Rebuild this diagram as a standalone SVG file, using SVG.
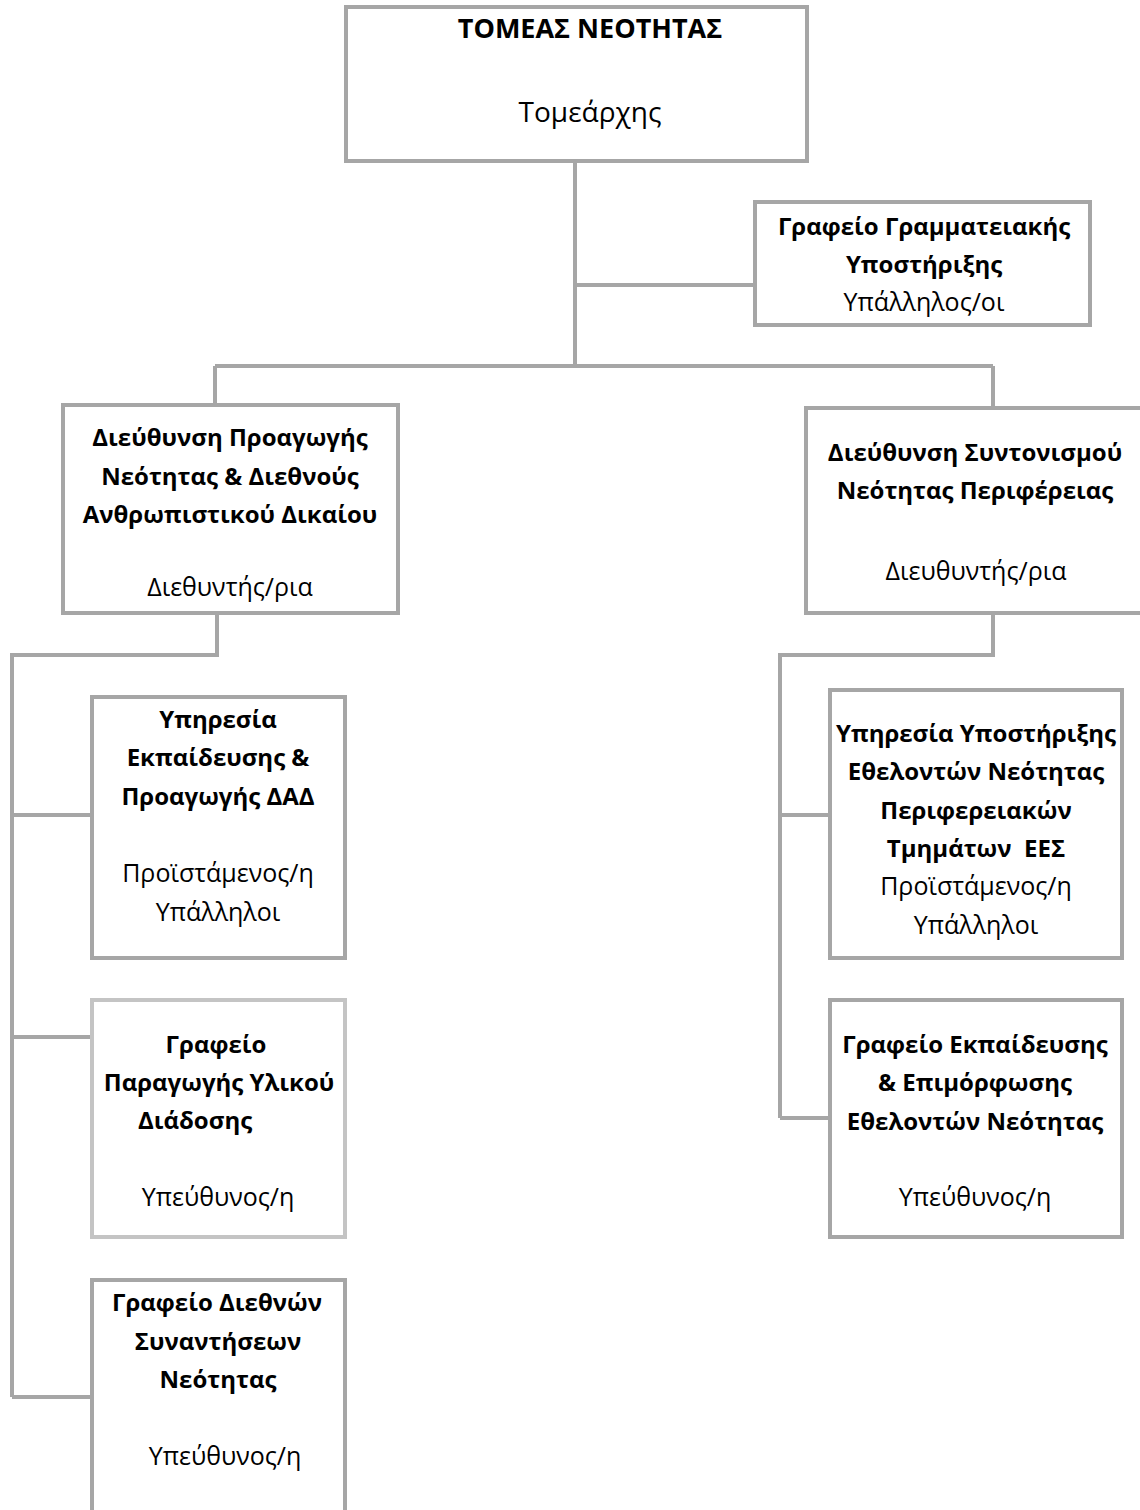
<svg xmlns="http://www.w3.org/2000/svg" width="1140" height="1510" viewBox="0 0 1140 1510">
<style>
.box{fill:#ffffff;stroke:#a6a6a6;stroke-width:4}
.light{stroke:#c4c4c4}
.con{fill:none;stroke:#a6a6a6;stroke-width:4}
text{font-family:"Open Sans","Noto Sans","DejaVu Sans",sans-serif;fill:#000;text-anchor:middle}
.b{font-weight:bold;font-size:24px}
.r{font-size:25px}
.t{font-weight:bold;font-size:27px}
.tr{font-size:28px}
</style>
<rect width="1140" height="1510" fill="#ffffff"/>
<g id="connectors">
<path class="con" d="M575 161V366M575 285H755M215 366H993M215 366V405M993 366V408"/>
<path class="con" d="M217 613V655H12V1397M12 815H92M12 1037H92M12 1397H92"/>
<path class="con" d="M993 613V655H780V1118M780 815H830M780 1118H830"/>
</g>
<g id="n-top">
<rect class="box" x="346" y="7" width="461" height="154"/>
<text class="t" x="590" y="38">ΤΟΜΕΑΣ ΝΕΟΤΗΤΑΣ</text>
<text class="tr" x="590" y="122">Τομεάρχης</text>
</g>
<g id="n-secretariat">
<rect class="box" x="755" y="202" width="335" height="123"/>
<text class="b" x="924" y="235">Γραφείο Γραμματειακής</text>
<text class="b" x="924" y="273">Υποστήριξης</text>
<text class="r" x="924" y="311">Υπάλληλος/οι</text>
</g>
<g id="n-dir-left">
<rect class="box" x="63" y="405" width="335" height="208"/>
<text class="b" x="230" y="446">Διεύθυνση Προαγωγής</text>
<text class="b" x="230" y="485">Νεότητας &amp; Διεθνούς</text>
<text class="b" x="230" y="523">Ανθρωπιστικού Δικαίου</text>
<text class="r" x="230" y="596">Διεθυντής/ρια</text>
</g>
<g id="n-dir-right">
<rect class="box" x="806" y="408" width="340" height="205"/>
<text class="b" x="975" y="461">Διεύθυνση Συντονισμού</text>
<text class="b" x="975" y="499">Νεότητας Περιφέρειας</text>
<text class="r" x="976" y="580">Διευθυντής/ρια</text>
</g>
<g id="n-training">
<rect class="box" x="92" y="697" width="253" height="261"/>
<text class="b" x="218" y="728">Υπηρεσία</text>
<text class="b" x="218" y="766">Εκπαίδευσης &amp;</text>
<text class="b" x="218" y="805">Προαγωγής ΔΑΔ</text>
<text class="r" x="218" y="882">Προϊστάμενος/η</text>
<text class="r" x="218" y="921">Υπάλληλοι</text>
</g>
<g id="n-material">
<rect class="box light" x="92" y="1000" width="253" height="237"/>
<text class="b" x="216" y="1053">Γραφείο</text>
<text class="b" x="219" y="1091">Παραγωγής Υλικού</text>
<text class="b" x="195" y="1129">Διάδοσης</text>
<text class="r" x="218" y="1206">Υπεύθυνος/η</text>
</g>
<g id="n-meetings">
<rect class="box" x="92" y="1280" width="253" height="240"/>
<text class="b" x="217" y="1311">Γραφείο Διεθνών</text>
<text class="b" x="218" y="1350">Συναντήσεων</text>
<text class="b" x="218" y="1388">Νεότητας</text>
<text class="r" x="225" y="1465">Υπεύθυνος/η</text>
</g>
<g id="n-volunteers">
<rect class="box" x="830" y="690" width="292" height="268"/>
<text class="b" x="976" y="742">Υπηρεσία Υποστήριξης</text>
<text class="b" x="976" y="780">Εθελοντών Νεότητας</text>
<text class="b" x="976" y="819">Περιφερειακών</text>
<text class="b" x="976" y="857" xml:space="preserve">Τμημάτων  ΕΕΣ</text>
<text class="r" x="976" y="895">Προϊστάμενος/η</text>
<text class="r" x="976" y="934">Υπάλληλοι</text>
</g>
<g id="n-vol-training">
<rect class="box" x="830" y="1000" width="292" height="237"/>
<text class="b" x="975" y="1053">Γραφείο Εκπαίδευσης</text>
<text class="b" x="975" y="1091">&amp; Επιμόρφωσης</text>
<text class="b" x="975" y="1130">Εθελοντών Νεότητας</text>
<text class="r" x="975" y="1206">Υπεύθυνος/η</text>
</g>
</svg>
